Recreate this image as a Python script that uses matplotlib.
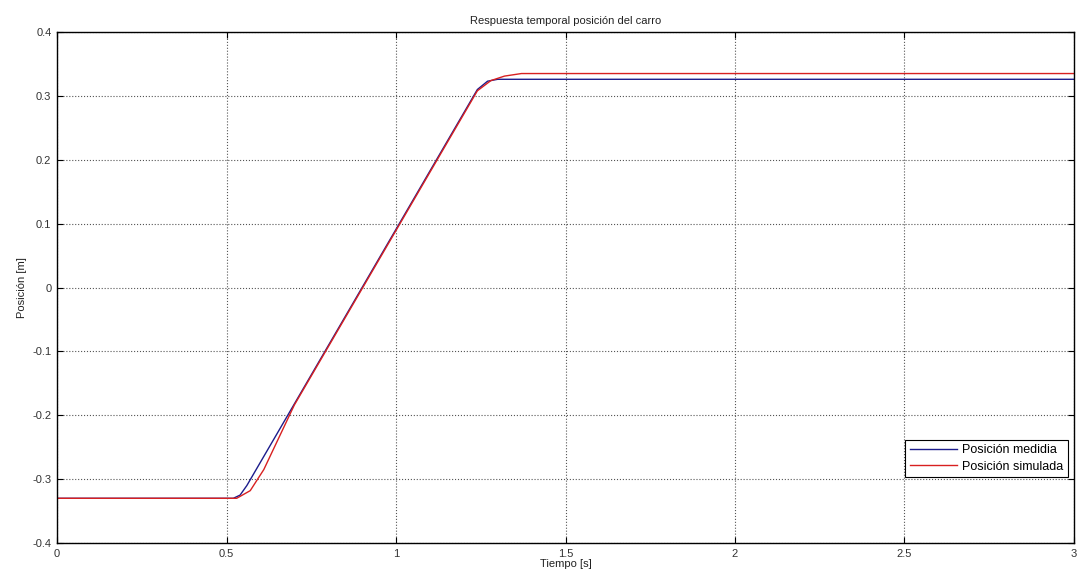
import numpy as np
import matplotlib.pyplot as plt

# datos
t_med = [0, 0.52, 0.54, 0.56, 1.24, 1.27, 1.30, 3.0]
x_med = [-0.330, -0.330, -0.325, -0.310, 0.310, 0.323, 0.326, 0.326]

t_sim = [0, 0.53, 0.57, 0.61, 0.70, 1.24, 1.28, 1.32, 1.37, 3.0]
x_sim = [-0.330, -0.330, -0.318, -0.285, -0.184, 0.308, 0.324, 0.331, 0.335, 0.335]

xticks = [0, 0.5, 1, 1.5, 2, 2.5, 3]
xticklabels = ["0", "0.5", "1", "1.5", "2", "2.5", "3"]
yticks = [-0.4, -0.3, -0.2, -0.1, 0, 0.1, 0.2, 0.3, 0.4]
yticklabels = ["-0.4", "-0.3", "-0.2", "-0.1", "0", "0.1", "0.2", "0.3", "0.4"]

plt.rcParams['font.family'] = ['Liberation Sans', 'DejaVu Sans']
plt.rcParams['font.size'] = 8

fig = plt.figure(figsize=(10.82, 5.77), dpi=100)
ax = fig.add_axes([0.0527, 0.0589, 0.9399, 0.8856])

ax.plot(t_med, x_med, color='#1c1c8c', lw=1.0, label='Posición medidia')
ax.plot(t_sim, x_sim, color='#d82020', lw=1.0, label='Posición simulada')

ax.set_xlim(0, 3)
ax.set_ylim(-0.4, 0.4)
ax.set_xticks(xticks)
ax.set_xticklabels(xticklabels)
ax.set_yticks(yticks)
ax.set_yticklabels(yticklabels)
ax.tick_params(direction='in', length=4, pad=4, color='black', labelcolor='#333333', top=True, right=True)
ax.grid(True, linestyle=':', color='#555555', linewidth=0.8)
for s in ax.spines.values():
    s.set_linewidth(1.0)

ax.set_title('Respuesta temporal posición del carro', fontsize=8, color='#222222', pad=6)
ax.set_xlabel('Tiempo [s]', color='#222222', labelpad=0)
ax.set_ylabel('Posición [m]', color='#222222', labelpad=4)

leg = ax.legend(loc='lower right', bbox_to_anchor=(0.994, 0.129), borderaxespad=0,
                fancybox=False, edgecolor='black', framealpha=1, handlelength=3.8,
                fontsize=9, borderpad=0.35, labelspacing=0.35, handletextpad=0.4)
leg.get_frame().set_linewidth(0.8)

fig.savefig('out.png', dpi=100)
